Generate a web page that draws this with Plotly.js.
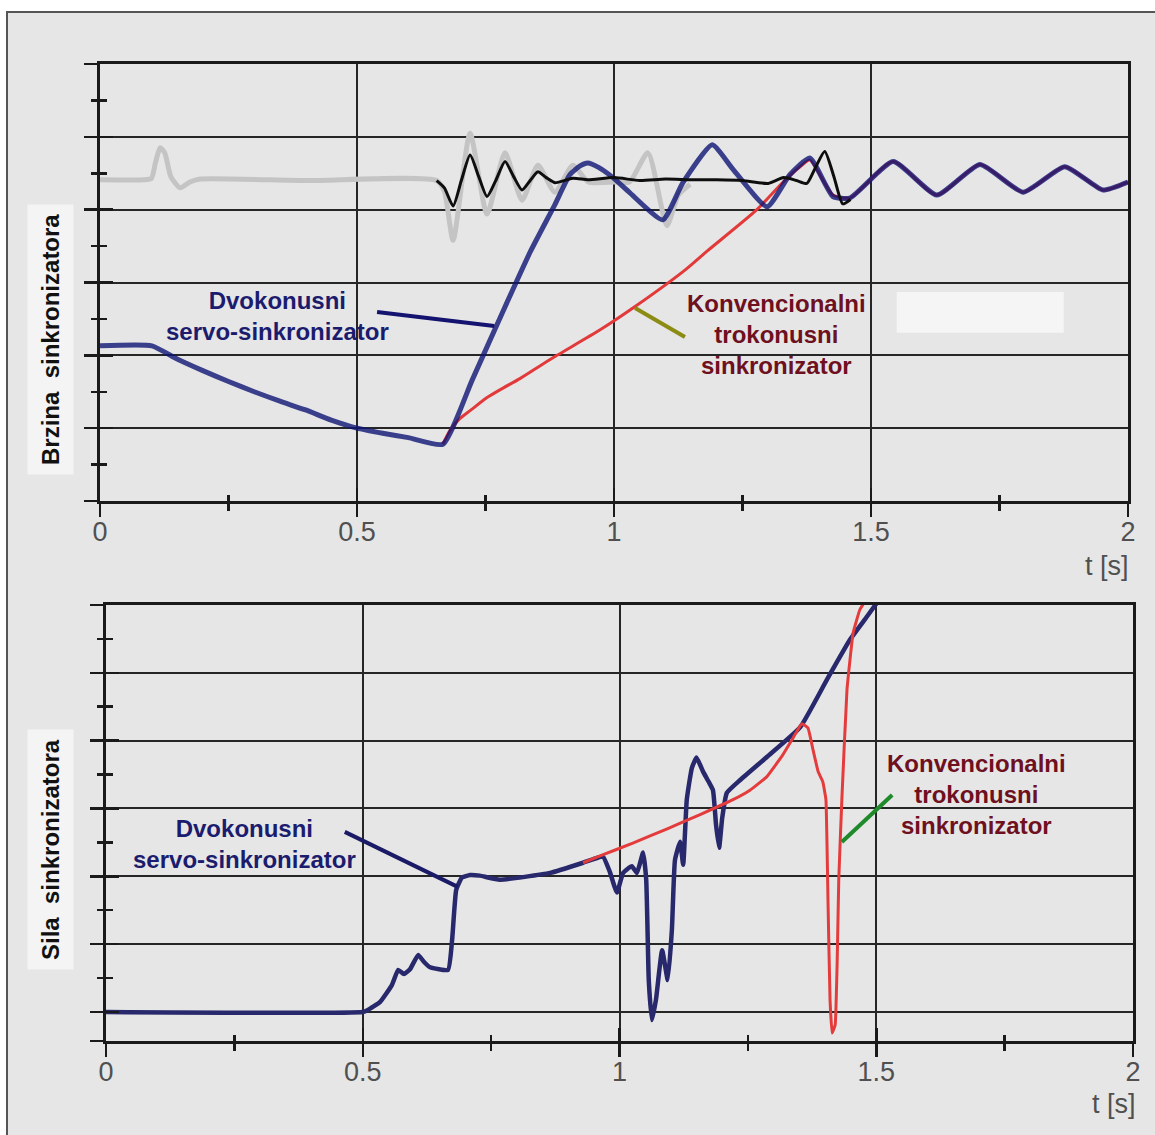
<!DOCTYPE html>
<html>
<head>
<meta charset="utf-8">
<script src="https://cdn.plot.ly/plotly-3.0.1.min.js"></script>
<style>html,body{margin:0;padding:0;background:#fff;}#chart{width:1155px;height:1135px;}</style>
</head>
<body>
<div id="chart"></div>
<script>
// ---------- data ----------
// Top panel: Brzina sinkronizatora
const grayT = [0, 0.085, 0.100, 0.108, 0.117, 0.126, 0.138, 0.156, 0.175, 0.195, 0.4, 0.655, 0.670, 0.687, 0.720, 0.753, 0.788, 0.821, 0.852, 0.885, 0.920, 0.950, 1.000, 1.030, 1.066, 1.103, 1.125, 1.148];
const grayY = [4.41, 4.41, 4.43, 4.65, 4.85, 4.78, 4.45, 4.30, 4.38, 4.42, 4.40, 4.40, 4.25, 3.58, 5.05, 3.94, 4.78, 4.13, 4.61, 4.24, 4.61, 4.38, 4.38, 4.38, 4.78, 3.78, 4.20, 4.35];

const blackT = [0.655, 0.670, 0.687, 0.703, 0.720, 0.737, 0.753, 0.770, 0.788, 0.805, 0.821, 0.837, 0.852, 0.868, 0.885, 0.920, 0.950, 1.000, 1.050, 1.100, 1.150, 1.200, 1.250, 1.300, 1.330, 1.355, 1.375, 1.390, 1.410, 1.428, 1.445, 1.460];
const blackY = [4.40, 4.30, 4.05, 4.40, 4.75, 4.45, 4.18, 4.40, 4.66, 4.45, 4.27, 4.40, 4.52, 4.44, 4.37, 4.43, 4.41, 4.44, 4.40, 4.42, 4.41, 4.41, 4.40, 4.36, 4.44, 4.40, 4.36, 4.55, 4.80, 4.45, 4.08, 4.14];

const blueT = [0, 0.101, 0.15, 0.2, 0.25, 0.3, 0.35, 0.4, 0.45, 0.5, 0.55, 0.6, 0.667, 0.724, 0.778, 0.837, 0.885, 0.914, 0.934, 0.949, 0.970, 0.998, 1.031, 1.095, 1.134, 1.191, 1.232, 1.298, 1.342, 1.381, 1.426, 1.459, 1.543, 1.628, 1.712, 1.796, 1.877, 1.951, 2.0];
const blueY = [2.13, 2.13, 1.95, 1.79, 1.64, 1.50, 1.37, 1.25, 1.11, 1.00, 0.93, 0.87, 0.78, 1.66, 2.51, 3.42, 4.07, 4.48, 4.60, 4.64, 4.58, 4.44, 4.23, 3.86, 4.37, 4.89, 4.55, 4.04, 4.48, 4.71, 4.18, 4.16, 4.66, 4.20, 4.62, 4.24, 4.59, 4.27, 4.38];

const redT = [0.667, 0.681, 0.700, 0.720, 0.753, 0.784, 0.817, 0.875, 0.973, 1.041, 1.138, 1.181, 1.278, 1.329, 1.362, 1.381, 1.426, 1.459, 1.543, 1.628, 1.712, 1.796, 1.877, 1.951, 2.0];
const redY = [0.78, 0.97, 1.13, 1.24, 1.42, 1.55, 1.68, 1.94, 2.35, 2.67, 3.17, 3.43, 4.00, 4.38, 4.59, 4.68, 4.20, 4.16, 4.66, 4.20, 4.62, 4.24, 4.59, 4.27, 4.38];

// Bottom panel: Sila sinkronizatora
const bBlueT = [0, 0.500, 0.510, 0.534, 0.557, 0.569, 0.580, 0.592, 0.608, 0.619, 0.631, 0.666, 0.674, 0.682, 0.693, 0.709, 0.728, 0.767, 0.865, 0.929, 0.956, 0.968, 0.981, 0.995, 1.007, 1.024, 1.034, 1.046, 1.052, 1.057, 1.063, 1.071, 1.083, 1.094, 1.102, 1.108, 1.118, 1.124, 1.131, 1.141, 1.150, 1.163, 1.174, 1.182, 1.188, 1.194, 1.200, 1.209, 1.235, 1.287, 1.352, 1.404, 1.449, 1.482, 1.501];
const bBlueY = [0, 0, 0.03, 0.15, 0.40, 0.62, 0.56, 0.63, 0.84, 0.74, 0.66, 0.62, 1.06, 1.80, 1.98, 2.02, 2.01, 1.95, 2.05, 2.20, 2.27, 2.29, 2.07, 1.76, 2.05, 2.15, 2.05, 2.35, 1.95, 0.47, -0.12, 0.18, 0.91, 0.47, 1.21, 2.24, 2.51, 2.17, 3.13, 3.60, 3.75, 3.54, 3.39, 3.27, 2.76, 2.42, 2.86, 3.23, 3.42, 3.76, 4.20, 4.90, 5.49, 5.83, 6.03];

const bRedT = [0.929, 0.962, 1.026, 1.093, 1.157, 1.221, 1.254, 1.287, 1.318, 1.338, 1.355, 1.367, 1.377, 1.387, 1.396, 1.402, 1.406, 1.410, 1.414, 1.420, 1.424, 1.427, 1.433, 1.443, 1.455, 1.468, 1.476];
const bRedY = [2.20, 2.30, 2.49, 2.70, 2.91, 3.13, 3.27, 3.47, 3.79, 4.04, 4.25, 4.19, 3.86, 3.54, 3.39, 3.13, 1.65, 0.18, -0.31, -0.19, 0.77, 1.95, 3.13, 4.75, 5.59, 5.93, 6.03];

// ticks
const xTickVals = [0, 0.5, 1, 1.5, 2];
const xTickText = ['0', '0.5', '1', '1.5', '2'];
const yTopTicks = [0, 1, 2, 3, 4, 5, 6];
const yBotTicks = [-0.428, 0, 1, 2, 3, 4, 5, 6];
const yTopRange = [0, 6];
const yBotRange = [-0.428, 6];

// labels
const topTitle = 'Brzina\u00a0\u00a0sinkronizatora';
const botTitle = 'Sila\u00a0\u00a0sinkronizatora';
const servoLabel = 'Dvokonusni<br>servo-sinkronizator';
const convLabel = 'Konvencionalni<br>trokonusni<br>sinkronizator';
const xLabel = 't [s]';

// ---------- styling ----------
const FONT = 'Liberation Sans, Arial, sans-serif';
const TC = '#1a1a1a';
const GC = '#262626';
const W = 1155, H = 1135;

function xAxisMain(domain, anchor) {
  return {
    domain: domain, anchor: anchor, range: [0, 2],
    tickmode: 'array', tickvals: xTickVals, ticktext: xTickText,
    ticks: 'outside', ticklen: 13, tickwidth: 2.5, tickcolor: TC,
    ticklabelstandoff: -8,
    showgrid: true, gridcolor: GC, gridwidth: 2,
    showline: true, linecolor: TC, linewidth: 3, mirror: true, zeroline: false,
    tickfont: {family: FONT, size: 27, color: '#505050'},
    minor: {tickmode: 'linear', tick0: 0.25, dtick: 0.5, ticks: 'outside', ticklen: 6.5, tickwidth: 2.5, tickcolor: TC, showgrid: false},
    fixedrange: true
  };
}
function xAxisOver(over, anchor) {
  return {
    overlaying: over, anchor: anchor, range: [0, 2],
    tickmode: 'array', tickvals: xTickVals, ticktext: xTickText,
    ticks: 'inside', ticklen: 13, tickwidth: 2.5, tickcolor: TC,
    showticklabels: false, showgrid: false, showline: false, zeroline: false,
    minor: {tickmode: 'linear', tick0: 0.25, dtick: 0.5, ticks: 'inside', ticklen: 6.5, tickwidth: 2.5, tickcolor: TC, showgrid: false},
    fixedrange: true
  };
}
function yAxisMain(domain, anchor, range, vals) {
  return {
    domain: domain, anchor: anchor, range: range,
    tickmode: 'array', tickvals: vals,
    ticks: 'outside', ticklen: 13, tickwidth: 2.5, tickcolor: TC,
    showticklabels: false,
    showgrid: true, gridcolor: GC, gridwidth: 2,
    showline: true, linecolor: TC, linewidth: 3, mirror: true, zeroline: false,
    minor: {tickmode: 'linear', tick0: 0.5, dtick: 1, ticks: 'outside', ticklen: 6.5, tickwidth: 2.5, tickcolor: TC, showgrid: false},
    fixedrange: true
  };
}
function yAxisOver(over, anchor, range, vals) {
  return {
    overlaying: over, anchor: anchor, range: range,
    tickmode: 'array', tickvals: vals,
    ticks: 'inside', ticklen: 13, tickwidth: 2.5, tickcolor: TC,
    showticklabels: false, showgrid: false, showline: false, zeroline: false,
    minor: {tickmode: 'linear', tick0: 0.5, dtick: 1, ticks: 'inside', ticklen: 6.5, tickwidth: 2.5, tickcolor: TC, showgrid: false},
    fixedrange: true
  };
}

const topDomY = [(H - 501) / H, (H - 64) / H];
const botDomY = [(H - 1041) / H, (H - 605) / H];
const topDomX = [100 / W, 1128 / W];
const botDomX = [106 / W, 1133 / W];

const line = (x, y, xa, ya, color, width, shape, smooth, opacity) => ({
  type: 'scatter', mode: 'lines', x: x, y: y, xaxis: xa, yaxis: ya,
  line: {color: color, width: width, shape: shape, smoothing: smooth},
  opacity: opacity === undefined ? 1 : opacity,
  hoverinfo: 'skip', showlegend: false
});
const dummy = (xa, ya) => ({type: 'scatter', mode: 'lines', x: [null], y: [null], xaxis: xa, yaxis: ya, hoverinfo: 'skip', showlegend: false});

const traces = [
  line(grayT, grayY, 'x', 'y', '#c4c4c4', 5, 'spline', 0.6),
  line(redT, redY, 'x', 'y', '#e23a3a', 3, 'spline', 0.6),
  line(blueT, blueY, 'x', 'y', '#0f1574', 5, 'spline', 0.5, 0.8),
  line(blackT, blackY, 'x', 'y', '#0e0e0e', 3, 'spline', 0.6),
  line(bBlueT, bBlueY, 'x2', 'y2', '#28286c', 4.5, 'spline', 0.4),
  line(bRedT, bRedY, 'x2', 'y2', '#e43c3c', 3, 'spline', 0.3),
  dummy('x3', 'y'), dummy('x', 'y3'),
  dummy('x4', 'y2'), dummy('x2', 'y4')
];

const annFont = (c, s) => ({family: FONT, size: s, color: c});
const annotations = [
  {xref: 'paper', yref: 'paper', x: 50 / W, y: 1 - 340 / H, text: '<b>' + topTitle + '</b>', textangle: -90,
   showarrow: false, font: annFont('#111', 24), bgcolor: '#f4f4f4', borderpad: 9, xanchor: 'center', yanchor: 'middle'},
  {xref: 'paper', yref: 'paper', x: 50 / W, y: 1 - 850 / H, text: '<b>' + botTitle + '</b>', textangle: -90,
   showarrow: false, font: annFont('#111', 24), bgcolor: '#f4f4f4', borderpad: 9, xanchor: 'center', yanchor: 'middle'},
  {xref: 'paper', yref: 'paper', x: 1107 / W, y: 1 - 566 / H, text: xLabel, showarrow: false,
   font: annFont('#505050', 27), xanchor: 'center', yanchor: 'middle'},
  {xref: 'paper', yref: 'paper', x: 1114 / W, y: 1 - 1104 / H, text: xLabel, showarrow: false,
   font: annFont('#505050', 27), xanchor: 'center', yanchor: 'middle'},
  {xref: 'x', yref: 'y', x: 0.346, y: 2.54, text: '<b>' + servoLabel + '</b>', showarrow: false, align: 'center',
   font: annFont('#1c1c6e', 24), xanchor: 'center', yanchor: 'middle'},
  {xref: 'x', yref: 'y', x: 1.317, y: 2.28, text: '<b>' + convLabel + '</b>', showarrow: false, align: 'center',
   font: annFont('#6e1020', 24), xanchor: 'center', yanchor: 'middle'},
  {xref: 'x2', yref: 'y2', x: 0.269, y: 2.47, text: '<b>' + servoLabel + '</b>', showarrow: false, align: 'center',
   font: annFont('#1c1c6e', 24), xanchor: 'center', yanchor: 'middle'},
  {xref: 'x2', yref: 'y2', x: 1.696, y: 3.20, text: '<b>' + convLabel + '</b>', showarrow: false, align: 'center',
   font: annFont('#6e1020', 24), xanchor: 'center', yanchor: 'middle'}
];

const shapes = [
  {type: 'rect', xref: 'paper', yref: 'paper', x0: 7 / W, x1: 1.02, y0: -0.02, y1: 1 - 12 / H,
   fillcolor: '#e6e6e6', line: {color: '#555', width: 2}, layer: 'below'},
  {type: 'rect', xref: 'x', yref: 'y', x0: 1.55, x1: 1.875, y0: 2.31, y1: 2.87,
   fillcolor: 'rgba(255,255,255,0.6)', line: {width: 0}, layer: 'below'},
  {type: 'line', xref: 'x', yref: 'y', x0: 0.539, y0: 2.596, x1: 0.767, y1: 2.404, line: {color: '#141470', width: 4}},
  {type: 'line', xref: 'x', yref: 'y', x0: 1.041, y0: 2.651, x1: 1.138, y1: 2.253, line: {color: '#8c8c14', width: 4}},
  {type: 'line', xref: 'x2', yref: 'y2', x0: 0.465, y0: 2.655, x1: 0.685, y1: 1.844, line: {color: '#1a1a66', width: 4}},
  {type: 'line', xref: 'x2', yref: 'y2', x0: 1.433, y0: 2.507, x1: 1.531, y1: 3.20, line: {color: '#1f8a2a', width: 4}}
];

const layout = {
  width: W, height: H,
  margin: {l: 0, r: 0, t: 0, b: 0, pad: 0},
  paper_bgcolor: '#ffffff', plot_bgcolor: '#f1f1f1',
  showlegend: false,
  font: {family: FONT},
  xaxis: xAxisMain(topDomX, 'y'),
  yaxis: yAxisMain(topDomY, 'x', yTopRange, yTopTicks),
  xaxis2: xAxisMain(botDomX, 'y2'),
  yaxis2: yAxisMain(botDomY, 'x2', yBotRange, yBotTicks),
  xaxis3: xAxisOver('x', 'y'),
  yaxis3: yAxisOver('y', 'x', yTopRange, yTopTicks),
  xaxis4: xAxisOver('x2', 'y2'),
  yaxis4: yAxisOver('y2', 'x2', yBotRange, yBotTicks),
  annotations: annotations,
  shapes: shapes
};

Plotly.newPlot('chart', traces, layout, {staticPlot: true, displayModeBar: false});
</script>
</body>
</html>
